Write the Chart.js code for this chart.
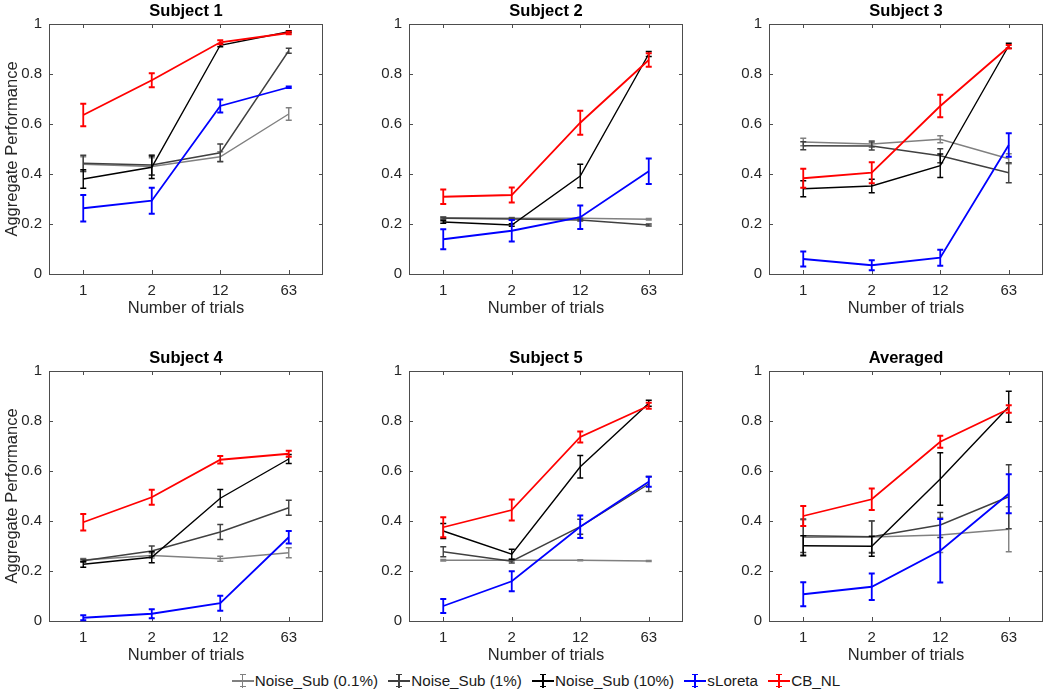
<!DOCTYPE html>
<html>
<head>
<meta charset="utf-8">
<script src="https://cdn.jsdelivr.net/npm/chart.js@4.4.1/dist/chart.umd.min.js"></script>
<style>
  html, body { margin: 0; padding: 0; background: #fff; }
  body { width: 1050px; height: 694px; position: relative; overflow: hidden; font-family: "Liberation Sans", Arial, sans-serif; }
  .panel { position: absolute; width: 327px; height: 322px; }
  .legend { position: absolute; left: 11px; width: 1050px; top: 672px; text-align: center; font-size: 15.2px; color: #1a1a1a; white-space: nowrap; }
  .item { display: inline-block; margin: 0 3px; }
  .ico { position: relative; display: inline-block; width: 22px; height: 16px; vertical-align: -3px; margin-right: 1px; }
  .ico .h { position: absolute; left: 0; right: 0; top: 7px; height: 1.5px; background: var(--c); }
  .ico .v { position: absolute; left: 10px; top: 1px; width: 1.5px; height: 14px; background: var(--c); }
  .ico .cap { position: absolute; left: 8px; top: 1px; width: 6px; height: 11px; border-top: 1.5px solid var(--c); border-bottom: 1.5px solid var(--c); }
</style>
</head>
<body>
<div class="panel" style="left:1px;top:0px"><canvas id="p0"></canvas></div>
<div class="panel" style="left:361px;top:0px"><canvas id="p1"></canvas></div>
<div class="panel" style="left:721px;top:0px"><canvas id="p2"></canvas></div>
<div class="panel" style="left:1px;top:347px"><canvas id="p3"></canvas></div>
<div class="panel" style="left:361px;top:347px"><canvas id="p4"></canvas></div>
<div class="panel" style="left:721px;top:347px"><canvas id="p5"></canvas></div>
<div class="legend" id="legend"></div>

<script>
// x categories and panel titles
const trials = ['1', '2', '12', '63'];
const panelTitles = ['Subject 1', 'Subject 2', 'Subject 3', 'Subject 4', 'Subject 5', 'Averaged'];
const seriesNames = ['Noise_Sub (0.1%)', 'Noise_Sub (1%)', 'Noise_Sub (10%)', 'sLoreta', 'CB_NL'];
const seriesColors = ['#808080', '#404040', '#000000', '#0000ff', '#ff0000'];

// one row per panel (Subject 1..5, Averaged), values for trials 1, 2, 12, 63
const noise01 = [
    [0.439, 0.430, 0.469, 0.640],
    [0.225, 0.223, 0.223, 0.219],
    [0.528, 0.520, 0.539, 0.461],
    [0.244, 0.262, 0.249, 0.273],
    [0.243, 0.243, 0.243, 0.240],
    [0.335, 0.336, 0.344, 0.367]
];
const noise01Err = [
    [0.030, 0.035, 0.020, 0.025],
    [0.004, 0.003, 0.003, 0.003],
    [0.015, 0.013, 0.014, 0.020],
    [0.006, 0.010, 0.010, 0.020],
    [0.003, 0.003, 0.002, 0.002],
    [0.070, 0.065, 0.070, 0.090]
];
const noise1 = [
    [0.443, 0.436, 0.485, 0.893],
    [0.223, 0.220, 0.216, 0.196],
    [0.513, 0.512, 0.473, 0.405],
    [0.241, 0.280, 0.356, 0.453],
    [0.277, 0.239, 0.377, 0.548],
    [0.341, 0.337, 0.384, 0.497]
];
const noise1Err = [
    [0.032, 0.040, 0.035, 0.010],
    [0.004, 0.004, 0.004, 0.004],
    [0.016, 0.016, 0.028, 0.040],
    [0.006, 0.020, 0.030, 0.030],
    [0.020, 0.007, 0.030, 0.030],
    [0.067, 0.063, 0.050, 0.128]
];
const noise10 = [
    [0.380, 0.427, 0.915, 0.969],
    [0.208, 0.196, 0.392, 0.880],
    [0.341, 0.352, 0.433, 0.913],
    [0.227, 0.255, 0.491, 0.648],
    [0.360, 0.267, 0.617, 0.871],
    [0.301, 0.299, 0.568, 0.857]
];
const noise10Err = [
    [0.037, 0.045, 0.006, 0.004],
    [0.005, 0.005, 0.047, 0.010],
    [0.032, 0.027, 0.047, 0.010],
    [0.012, 0.022, 0.035, 0.018],
    [0.030, 0.020, 0.045, 0.012],
    [0.040, 0.040, 0.105, 0.062]
];
const sLoreta = [
    [0.263, 0.293, 0.672, 0.747],
    [0.139, 0.173, 0.227, 0.411],
    [0.060, 0.035, 0.065, 0.516],
    [0.013, 0.029, 0.071, 0.335],
    [0.060, 0.159, 0.377, 0.557],
    [0.107, 0.137, 0.281, 0.509]
];
const sLoretaErr = [
    [0.053, 0.052, 0.026, 0.003],
    [0.040, 0.043, 0.047, 0.051],
    [0.030, 0.020, 0.032, 0.047],
    [0.010, 0.018, 0.030, 0.025],
    [0.028, 0.040, 0.045, 0.020],
    [0.048, 0.053, 0.127, 0.078]
];
const cbNL = [
    [0.636, 0.775, 0.927, 0.964],
    [0.309, 0.316, 0.605, 0.856],
    [0.383, 0.405, 0.672, 0.909],
    [0.395, 0.495, 0.645, 0.669],
    [0.375, 0.444, 0.736, 0.861],
    [0.420, 0.487, 0.717, 0.848]
];
const cbNLErr = [
    [0.045, 0.028, 0.008, 0.005],
    [0.029, 0.030, 0.048, 0.027],
    [0.038, 0.042, 0.045, 0.007],
    [0.033, 0.030, 0.015, 0.012],
    [0.040, 0.042, 0.022, 0.012],
    [0.040, 0.043, 0.024, 0.015]
];

const seriesValues = [noise01, noise1, noise10, sLoreta, cbNL];
const seriesErrors = [noise01Err, noise1Err, noise10Err, sLoretaErr, cbNLErr];
const lineWidths = [1.4, 1.4, 1.4, 1.8, 1.8];

const axisColor = '#262626';
const fontFamily = '"Liberation Sans", Arial, Helvetica, sans-serif';

// MATLAB-ish box with inward ticks on all four sides
const boxPlugin = {
    id: 'matlabBox',
    beforeDatasetsDraw(chart) {
        const { ctx, chartArea: a, scales: { x, y } } = chart;
        ctx.save();
        ctx.strokeStyle = '#4d4d4d';
        ctx.lineWidth = 1;
        ctx.strokeRect(a.left + 0.5, a.top + 0.5, a.right - a.left - 1, a.bottom - a.top);
        const tl = 4;
        ctx.beginPath();
        x.ticks.forEach((t, i) => {
            const px = Math.round(x.getPixelForTick(i)) + 0.5;
            ctx.moveTo(px, a.bottom); ctx.lineTo(px, a.bottom - tl);
            ctx.moveTo(px, a.top); ctx.lineTo(px, a.top + tl);
        });
        y.ticks.forEach(t => {
            const py = Math.round(y.getPixelForValue(t.value)) + 0.5;
            ctx.moveTo(a.left, py); ctx.lineTo(a.left + tl, py);
            ctx.moveTo(a.right, py); ctx.lineTo(a.right - tl, py);
        });
        ctx.stroke();
        ctx.restore();
    }
};

// vertical error bars with small caps, drawn with each dataset
const errorBarPlugin = {
    id: 'errorBars',
    afterDatasetDraw(chart, args) {
        const ds = chart.data.datasets[args.index];
        if (!ds.errors) return;
        const { ctx, scales: { x, y } } = chart;
        const cap = 3;
        ctx.save();
        ctx.strokeStyle = ds.borderColor;
        ctx.lineWidth = ds.borderWidth;
        ctx.beginPath();
        ds.data.forEach((v, i) => {
            const px = x.getPixelForValue(i);
            const top = y.getPixelForValue(v + ds.errors[i]);
            const bot = y.getPixelForValue(v - ds.errors[i]);
            ctx.moveTo(px, top); ctx.lineTo(px, bot);
            ctx.moveTo(px - cap, top); ctx.lineTo(px + cap, top);
            ctx.moveTo(px - cap, bot); ctx.lineTo(px + cap, bot);
        });
        ctx.stroke();
        ctx.restore();
    }
};

const makePanel = (p) => {
    const ctx = document.getElementById('p' + p).getContext('2d');
    const datasets = seriesNames.map((name, s) => ({
        label: name,
        data: seriesValues[s][p],
        errors: seriesErrors[s][p],
        borderColor: seriesColors[s],
        borderWidth: lineWidths[s],
        pointRadius: 0,
        fill: false,
        tension: 0,
        order: seriesNames.length - 1 - s
    }));
    const showYTitle = p % 3 === 0;

    new Chart(ctx, {
        type: 'line',
        data: { labels: trials, datasets },
        options: {
            responsive: true,
            maintainAspectRatio: false,
            animation: false,
            layout: { padding: { left: 0, right: 5, top: 0, bottom: 0 } },
            plugins: {
                legend: { display: false },
                tooltip: { enabled: false },
                title: {
                    display: true,
                    text: panelTitles[p],
                    fullSize: false,
                    color: '#000',
                    font: { family: fontFamily, size: 16.5, weight: 'bold', lineHeight: 1.2 },
                    padding: { top: 2, bottom: 2.2 }
                }
            },
            scales: {
                x: {
                    type: 'category',
                    offset: true,
                    grid: { display: false, drawTicks: false },
                    border: { display: false },
                    ticks: { color: axisColor, padding: 8, font: { family: fontFamily, size: 15 } },
                    title: {
                        display: true,
                        text: 'Number of trials',
                        color: axisColor,
                        font: { family: fontFamily, size: 16.5, lineHeight: 1.2 },
                        padding: { top: 0, bottom: 4 }
                    },
                    afterFit: (scale) => { scale.height = 48; }
                },
                y: {
                    min: 0,
                    max: 1,
                    grid: { display: false, drawTicks: false },
                    border: { display: false },
                    ticks: {
                        stepSize: 0.2,
                        color: axisColor,
                        padding: 7,
                        font: { family: fontFamily, size: 15 },
                        callback: (v) => String(parseFloat(v.toFixed(1)))
                    },
                    title: {
                        display: showYTitle,
                        text: 'Aggregate Performance',
                        color: axisColor,
                        font: { family: fontFamily, size: 16.5, lineHeight: 1.2 },
                        padding: { top: 2, bottom: 0 }
                    },
                    afterFit: (scale) => { scale.width = 48; }
                }
            }
        },
        plugins: [boxPlugin, errorBarPlugin]
    });
};

panelTitles.forEach((t, p) => makePanel(p));

// shared legend under the panels
document.getElementById('legend').innerHTML = seriesNames.map((name, s) => `
    <span class="item"><span class="ico" style="--c:${seriesColors[s]}"><i class="h"></i><i class="v"></i><i class="cap"></i></span>${name}</span>
`).join('');
</script>
</body>
</html>
